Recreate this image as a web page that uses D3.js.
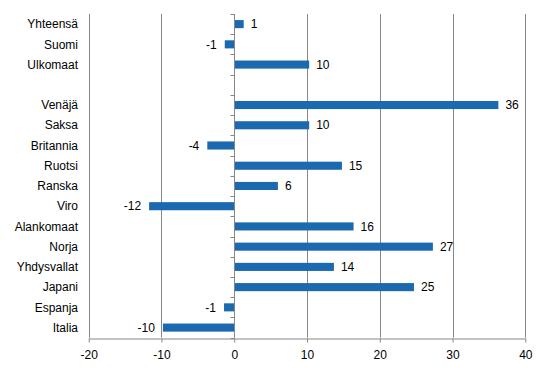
<!DOCTYPE html>
<html lang="fi">
<head>
<meta charset="utf-8">
<title>Bar chart</title>
<script src="https://d3js.org/d3.v7.min.js"></script>
<style>
  body { margin: 0; background: #fff; }
  text { font-family: "Liberation Sans", Arial, sans-serif; font-size: 12px; fill: #000; }
</style>
</head>
<body>
<svg id="chart" width="546" height="376"></svg>
<script>
// categories top to bottom, "" is the empty spacer row
let categories = ["Yhteensä", "Suomi", "Ulkomaat", "", "Venäjä", "Saksa", "Britannia", "Ruotsi",
                  "Ranska", "Viro", "Alankomaat", "Norja", "Yhdysvallat", "Japani", "Espanja", "Italia"];
let values = [1.3, -1.3, 10.3, null, 36.3, 10.3, -3.7, 14.8,
              6.0, -11.7, 16.4, 27.3, 13.7, 24.7, -1.4, -9.8];
let xTicks = [-20, -10, 0, 10, 20, 30, 40];

let svg = d3.select("#chart");
let margin = {left: 88.7, right: 20.7, top: 14, bottom: 38.3};
let width = 546 - margin.left - margin.right;
let height = 376 - margin.top - margin.bottom;

let data = categories.map((c, i) => ({key: i, name: c, value: values[i]}));

let x = d3.scaleLinear().domain([-20, 40]).range([margin.left, margin.left + width]);
let y = d3.scaleBand()
    .domain(data.map(d => d.key))
    .range([margin.top, margin.top + height])
    .paddingInner(0.6).paddingOuter(0.3);
let band = d3.scaleBand().domain(data.map(d => d.key)).range([margin.top, margin.top + height]);

// vertical gridlines
svg.append("g")
    .selectAll("line")
    .data(xTicks)
    .enter().append("line")
    .attr("x1", d => Math.round(x(d)) + 0.5)
    .attr("x2", d => Math.round(x(d)) + 0.5)
    .attr("y1", margin.top)
    .attr("y2", margin.top + height)
    .attr("stroke", "#878787")
    .attr("stroke-width", 1);

// bottom axis
let xAxis = svg.append("g")
    .attr("transform", "translate(0," + (Math.round(margin.top + height) + 0.5) + ")")
    .call(d3.axisBottom(x).tickValues(xTicks).tickFormat(d => String(d))
        .tickSize(4).tickPadding(8).tickSizeOuter(0));
xAxis.select(".domain").attr("stroke", "#878787");
xAxis.selectAll(".tick line").attr("stroke", "#878787");
xAxis.selectAll("text").attr("font-size", 12).attr("font-family", "Liberation Sans, Arial, sans-serif");

// category axis at zero, ticks on band boundaries
let x0 = Math.round(x(0)) + 0.5;
let bounds = data.map(d => band(d.key)).concat([margin.top + height]);
svg.append("g")
    .selectAll("line")
    .data(bounds)
    .enter().append("line")
    .attr("x1", x0 - 4)
    .attr("x2", x0)
    .attr("y1", d => Math.round(d) + 0.5)
    .attr("y2", d => Math.round(d) + 0.5)
    .attr("stroke", "#878787");

// bars
let rows = data.filter(d => d.value !== null);
svg.append("g")
    .selectAll("rect")
    .data(rows)
    .enter().append("rect")
    .attr("x", d => x(Math.min(0, d.value)))
    .attr("width", d => Math.abs(x(d.value) - x(0)))
    .attr("y", d => y(d.key))
    .attr("height", y.bandwidth())
    .attr("fill", "#1B69AF");

svg.append("line")
    .attr("x1", x0).attr("x2", x0)
    .attr("y1", margin.top).attr("y2", margin.top + height)
    .attr("stroke", "#878787");

// category labels
svg.append("g")
    .selectAll("text")
    .data(data)
    .enter().append("text")
    .attr("x", 78)
    .attr("y", d => band(d.key) + band.bandwidth() / 2)
    .attr("dy", "0.35em")
    .attr("text-anchor", "end")
    .text(d => d.name);

// value labels
svg.append("g")
    .selectAll("text")
    .data(rows)
    .enter().append("text")
    .attr("x", d => d.value >= 0 ? x(d.value) + 7 : x(d.value) - 8)
    .attr("y", d => band(d.key) + band.bandwidth() / 2)
    .attr("dy", "0.35em")
    .attr("text-anchor", d => d.value >= 0 ? "start" : "end")
    .text(d => Math.round(d.value));
</script>
</body>
</html>
